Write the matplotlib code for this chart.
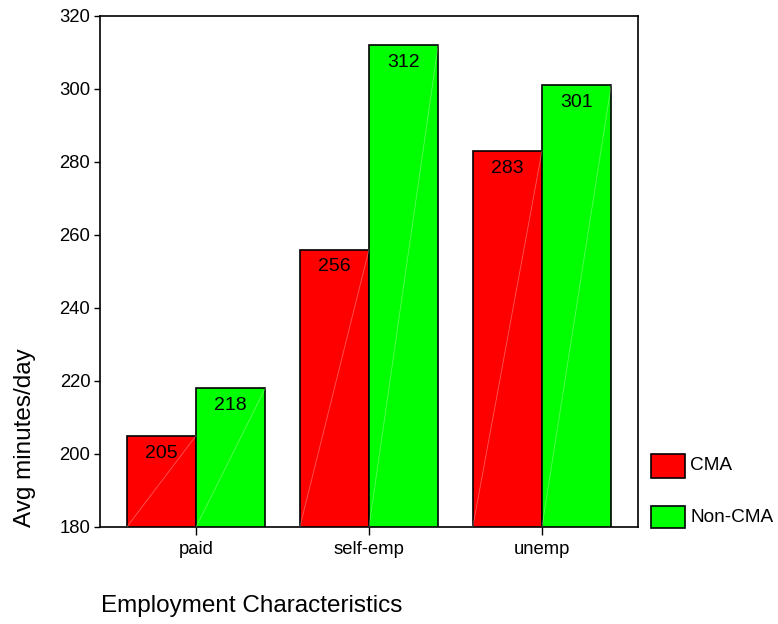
import matplotlib
matplotlib.use("Agg")
import matplotlib.pyplot as plt
import numpy as np
from matplotlib.patches import Rectangle

categories = ["paid", "self-emp", "unemp"]
cma = [205, 256, 283]
non_cma = [218, 312, 301]
series_names = ["CMA", "Non-CMA"]
yticks = [180, 200, 220, 240, 260, 280, 300, 320]

plt.rcParams["font.family"] = ["Liberation Sans", "DejaVu Sans"]

W, H = 778, 624
fig = plt.figure(figsize=(W / 100, H / 100), dpi=100)
ax = fig.add_axes([100 / W, 1 - 527 / H, 538 / W, 511 / H])

x = np.arange(len(categories))
bw = 0.4
colors = ["#ff0000", "#00ff00"]

for vals, off, col in [(cma, -bw / 2, colors[0]), (non_cma, bw / 2, colors[1])]:
    ax.bar(x + off, vals, width=bw, bottom=0, color=col,
           edgecolor="black", linewidth=1.2, zorder=2)
    for xi, v in zip(x + off, vals):
        # faint diagonal sheen across each bar
        ax.plot([xi - bw / 2, xi + bw / 2], [180, v], color="white",
                alpha=0.35, linewidth=0.6, zorder=3)
        ax.annotate(f"{v}", (xi, v), xytext=(0, -12.5), textcoords="offset points",
                    ha="center", va="center", fontsize=14, zorder=4)

ax.set_xlim(-0.555, 2.555)
ax.set_ylim(180, 320)
ax.set_yticks(yticks)
ax.set_xticks(x)
ax.set_xticklabels(categories)
ax.tick_params(axis="both", direction="out", labelsize=13.3, width=1, colors="black")
ax.tick_params(axis="y", length=4, pad=3)
ax.tick_params(axis="x", length=6, pad=4)
for s in ax.spines.values():
    s.set_linewidth(1.2)

fig.text(25 / W, 1 - 527 / H, "Avg minutes/day", rotation=90, ha="center",
         va="bottom", fontsize=17.5)
fig.text(101 / W, 1 - 606 / H, "Employment Characteristics", ha="left",
         va="center", fontsize=17.5)

# legend drawn at the right of the plot area
legend_rows = [(454, 478), (506, 528)]
for (top, bot), col, name in zip(legend_rows, colors, series_names):
    fig.add_artist(Rectangle((651 / W, 1 - bot / H), 34 / W, (bot - top) / H,
                             transform=fig.transFigure, facecolor=col,
                             edgecolor="black", linewidth=1.2))
    fig.text(690 / W, 1 - (top + bot) / 2 / H, name, ha="left", va="center",
             fontsize=13.7)

fig.savefig("out.png", dpi=100)
